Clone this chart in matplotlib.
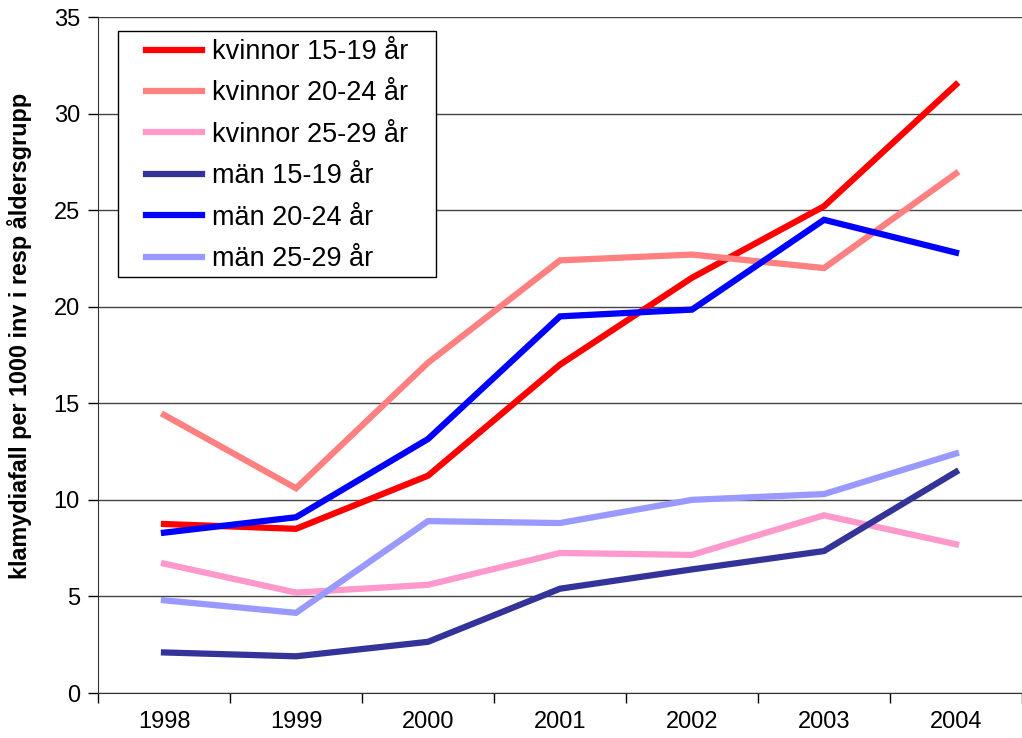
import matplotlib.pyplot as plt
from matplotlib.patches import Rectangle
import numpy as np

plt.rcParams['font.family'] = ['Liberation Sans', 'DejaVu Sans']

years = ['1998', '1999', '2000', '2001', '2002', '2003', '2004']

kvinnor_15_19 = [8.75, 8.5, 11.25, 17.0, 21.5, 25.2, 31.5]
kvinnor_20_24 = [14.4, 10.6, 17.1, 22.4, 22.7, 22.0, 26.9]
kvinnor_25_29 = [6.7, 5.2, 5.6, 7.25, 7.15, 9.2, 7.7]
man_15_19 = [2.1, 1.9, 2.65, 5.4, 6.4, 7.35, 11.45]
man_20_24 = [8.3, 9.1, 13.15, 19.5, 19.85, 24.5, 22.8]
man_25_29 = [4.8, 4.15, 8.9, 8.8, 10.0, 10.3, 12.4]

series = [
    ('kvinnor 15-19 år', kvinnor_15_19, '#FF0000'),
    ('kvinnor 20-24 år', kvinnor_20_24, '#FF8080'),
    ('kvinnor 25-29 år', kvinnor_25_29, '#FF99CC'),
    ('män 15-19 år', man_15_19, '#333399'),
    ('män 20-24 år', man_20_24, '#0000FF'),
    ('män 25-29 år', man_25_29, '#9999FF'),
]

W, H = 1022, 738
fig = plt.figure(figsize=(W / 100, H / 100), dpi=100)
ax = fig.add_axes([98 / W, 1 - 693 / H, 1 - 98 / W, (693 - 17) / H])

x = np.arange(len(years))
for label, vals, color in series:
    ax.plot(x, vals, color=color, lw=4.5, label=label, solid_joinstyle='miter')

ax.set_xlim(-0.5, len(years) - 0.5)
ax.set_ylim(0, 35)
ax.set_yticks(np.arange(0, 36, 5))
ax.yaxis.grid(True, color='#444444', lw=1)
ax.set_axisbelow(True)

ax.set_xticks(np.arange(-0.5, len(years), 1))
ax.set_xticklabels([])
ax.set_xticks(x, minor=True)
ax.set_xticklabels(years, minor=True)
ax.tick_params(axis='x', which='major', length=7, width=1, direction='out')
ax.tick_params(axis='x', which='minor', length=0, pad=13, labelsize=17)
ax.tick_params(axis='y', length=7, width=1, labelsize=17, pad=6)

for s in ['top', 'right']:
    ax.spines[s].set_visible(False)
ax.spines['left'].set_color('#333333')
ax.spines['bottom'].set_color('#333333')

ax.set_ylabel('klamydiafall per 1000 inv i resp åldersgrupp', fontsize=16.8,
              fontweight='bold')
ax.yaxis.set_label_coords(-0.071, 0.528)

# legend box drawn separately so the padding can match
box = Rectangle((118 / W, 1 - 277 / H), (436 - 118) / W, (277 - 31) / H,
                transform=fig.transFigure, facecolor='white',
                edgecolor='black', lw=1, zorder=5, clip_on=False)
ax.add_patch(box)
leg = ax.legend(loc='upper left', bbox_to_anchor=(146 / W, 1 - 39 / H),
                bbox_transform=fig.transFigure, fontsize=19.5, frameon=False,
                handlelength=2.07, labelspacing=0.57, borderpad=0,
                handletextpad=0.37, borderaxespad=0)
leg.set_zorder(6)

fig.savefig('out.png', dpi=100)
